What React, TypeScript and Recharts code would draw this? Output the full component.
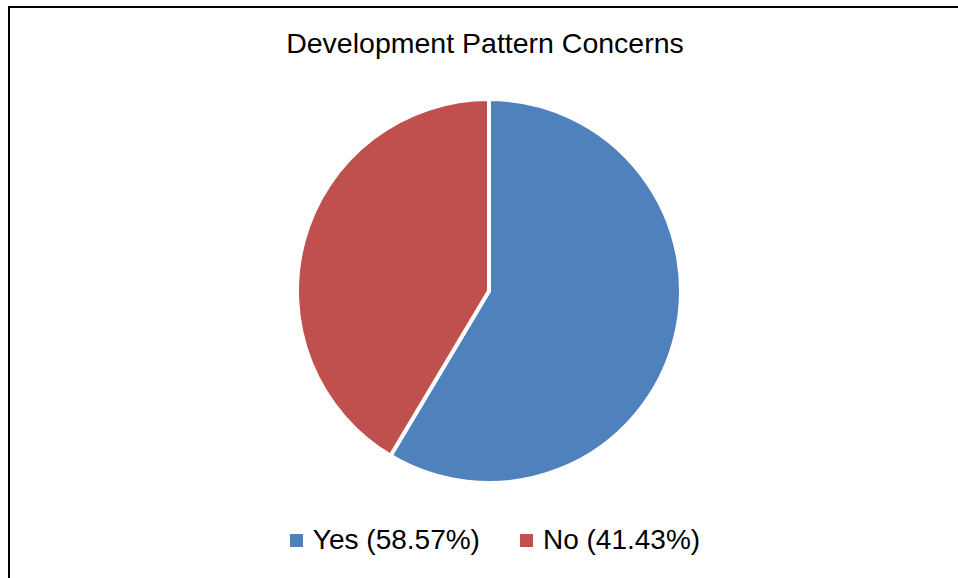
import { PieChart, Pie, Cell, Legend } from "recharts"

// 70 responses in total
const categories = ["Yes", "No"]
const counts = [41, 29]
const colors = ["#4F81BD", "#C0504D"]
const title = "Development Pattern Concerns"

const total = counts.reduce((a, b) => a + b, 0)
const pieData = categories.map((name, i) => ({
  name,
  value: counts[i],
  label: `${name} (${((counts[i] / total) * 100).toFixed(2)}%)`,
}))

const FONT = "'Liberation Sans', Arial, sans-serif"

const renderLegend = (props: any) => {
  const payload = [...props.payload].sort(
    (a: any, b: any) => categories.indexOf(a.value) - categories.indexOf(b.value)
  )
  return (
    <div
      style={{
        display: "flex",
        justifyContent: "center",
        alignItems: "center",
        fontFamily: FONT,
        fontSize: 28,
        color: "#000",
        lineHeight: "30px",
      }}
    >
      {payload.map((entry: any, i: number) => (
        <div
          key={i}
          style={{ display: "flex", alignItems: "center", marginRight: i === 0 ? 40 : 0 }}
        >
          <span
            style={{
              display: "inline-block",
              width: 13,
              height: 13,
              background: entry.color,
              marginRight: 10,
            }}
          />
          <span>{entry.payload.label}</span>
        </div>
      ))}
    </div>
  )
}

export default function App() {
  return (
    <div
      style={{
        position: "absolute",
        left: 0,
        top: 0,
        width: 958,
        height: 578,
        overflow: "hidden",
        background: "#fff",
      }}
    >
      {/* frame of the chart area, cut off on the right and bottom */}
      <div
        style={{
          position: "absolute",
          left: 8,
          top: 6,
          width: 1000,
          height: 1000,
          borderLeft: "2px solid #000",
          borderTop: "2px solid #000",
        }}
      />
      <div
        style={{
          position: "absolute",
          left: 0,
          top: 29,
          width: 970,
          textAlign: "center",
          fontFamily: FONT,
          fontSize: 28.5,
          lineHeight: "28px",
          color: "#000",
        }}
      >
        {title}
      </div>
      <PieChart width={958} height={578} style={{ position: "absolute", left: 0, top: 0 }}>
        <Pie
          data={pieData}
          dataKey="value"
          nameKey="name"
          cx={484}
          cy={286}
          outerRadius={192}
          startAngle={90}
          endAngle={-270}
          stroke="#fff"
          strokeWidth={4}
          isAnimationActive={false}
        >
          {pieData.map((_, i) => (
            <Cell key={i} fill={colors[i]} />
          ))}
        </Pie>
        <Legend
          content={renderLegend}
          wrapperStyle={{ position: "absolute", left: 0, top: 525, width: 990 }}
        />
      </PieChart>
    </div>
  )
}
